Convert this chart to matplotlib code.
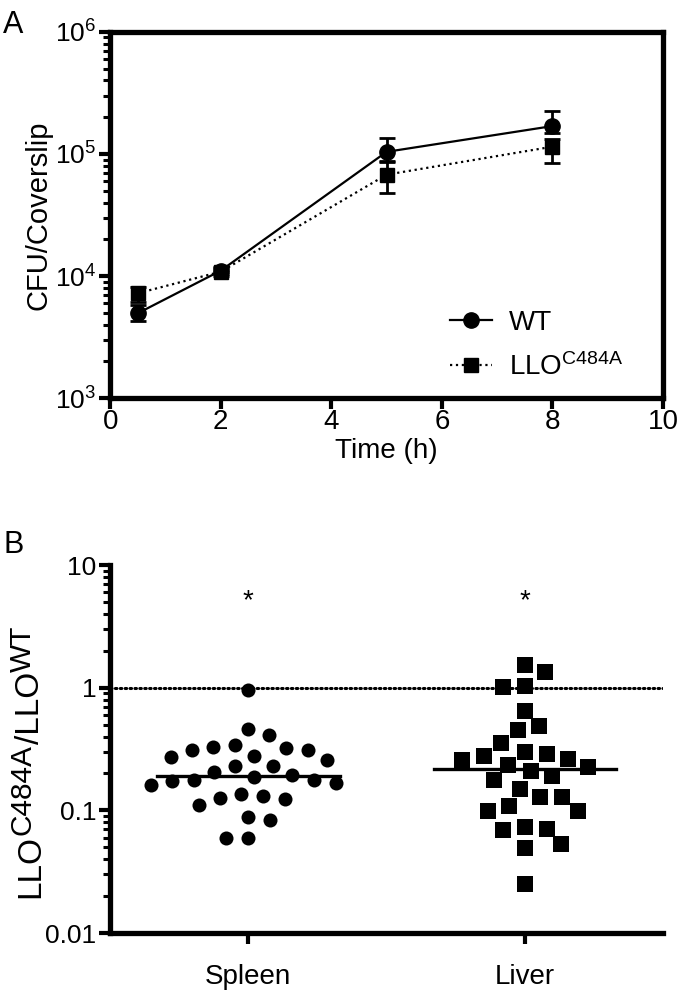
import matplotlib
matplotlib.use("Agg")
import matplotlib.pyplot as plt
import matplotlib.transforms as mtransforms
import numpy as np
from matplotlib.lines import Line2D
from matplotlib.ticker import LogLocator, NullFormatter

plt.rcParams['font.family'] = ['Liberation Sans', 'DejaVu Sans']
plt.rcParams['mathtext.fontset'] = 'custom'
plt.rcParams['mathtext.rm'] = 'Liberation Sans'
plt.rcParams['mathtext.default'] = 'regular'

# ---- panel A data: CFU per coverslip over time ----
time_h = [0.5, 2, 5, 8]
wt_mean = [4960, 11070, 104000, 169000]
wt_lo = [4250, 10300, 85300, 149000]
wt_hi = [5800, 11900, 136000, 226000]
mut_mean = [7230, 10860, 67600, 114600]
mut_lo = [6170, 10100, 48200, 83700]
mut_hi = [8100, 11600, 87500, 131500]

# ---- panel B data: competitive index ----
groups = ['Spleen', 'Liver']
spleen_ci = [0.95, 0.46, 0.41, 0.33, 0.31, 0.28, 0.27, 0.31, 0.32, 0.34,
             0.255, 0.23, 0.23, 0.194, 0.178, 0.175, 0.178, 0.186, 0.205, 0.167,
             0.16, 0.13, 0.124, 0.111, 0.126, 0.136, 0.083, 0.088, 0.059, 0.060]
liver_ci = [1.35, 1.54, 1.02, 1.04, 0.65, 0.49, 0.45, 0.356, 0.30, 0.28,
            0.29, 0.255, 0.26, 0.225, 0.234, 0.19, 0.176, 0.209, 0.15, 0.128,
            0.128, 0.109, 0.098, 0.099, 0.071, 0.069, 0.073, 0.053, 0.049, 0.025]
star_y = 5.1


def swarm_x(ax, xc, vals, w, h):
    # beeswarm in pixel space with an elliptical footprint (w wide, h tall)
    pts = ax.transData.transform(np.column_stack([np.full(len(vals), xc), vals]))
    ys = pts[:, 1] * w / h
    placed = []
    offs = np.zeros(len(vals))
    for i in np.argsort(vals)[::-1]:
        y = ys[i]
        cands = [0.0]
        for px, py in placed:
            dy = abs(py - y)
            if dy < w:
                dx = np.sqrt(w ** 2 - dy ** 2)
                cands += [px + dx, px - dx]
        cands.sort(key=abs)
        for c in cands:
            if all((c - px) ** 2 + (y - py) ** 2 >= w ** 2 - 1e-6 for px, py in placed):
                break
        placed.append((c, y))
        offs[i] = c
    disp = np.column_stack([pts[:, 0] + offs, pts[:, 1]])
    return ax.transData.inverted().transform(disp)[:, 0]


def stacked_ylabel(fig, pieces, x_px, yc_px):
    # rotated label made of pieces, so superscripts can keep a larger size
    r = fig.canvas.get_renderer()
    ident = mtransforms.IdentityTransform()
    items = []
    total = 0
    for s, size, rise in pieces:
        t = fig.text(0, 0, s, fontsize=size, rotation=90, rotation_mode='anchor',
                     ha='left', va='baseline', transform=ident)
        L = t.get_window_extent(r).height
        items.append((t, L, rise))
        total += L
    y = yc_px - total / 2
    for t, L, rise in items:
        t.set_position((x_px - rise, y))
        y += L


fig = plt.figure(figsize=(6.8, 9.93), dpi=100)

# ================= panel A =================
axA = fig.add_axes([0.162, 0.599, 0.813, 0.369])
axA.set_yscale('log')
axA.plot(time_h, wt_mean, '-', color='black', lw=1.6, zorder=3)
axA.plot(time_h, mut_mean, ':', color='black', lw=1.6, zorder=3)
axA.errorbar(time_h, wt_mean,
             yerr=[np.subtract(wt_mean, wt_lo), np.subtract(wt_hi, wt_mean)],
             fmt='o', ms=11, color='black', ecolor='black', elinewidth=2,
             capsize=6, capthick=2, zorder=4)
axA.errorbar(time_h, mut_mean,
             yerr=[np.subtract(mut_mean, mut_lo), np.subtract(mut_hi, mut_mean)],
             fmt='s', ms=10, color='black', ecolor='black', elinewidth=2,
             capsize=6, capthick=2, zorder=4)
axA.set_xlim(0, 10)
axA.set_ylim(1e3, 1e6)
axA.set_xticks([0, 2, 4, 6, 8, 10])
axA.set_yticks([1e3, 1e4, 1e5, 1e6])
axA.set_yticklabels(['10$^{3}$', '10$^{4}$', '10$^{5}$', '10$^{6}$'])
axA.yaxis.set_minor_locator(LogLocator(base=10, subs=np.arange(2, 10)))
axA.yaxis.set_minor_formatter(NullFormatter())
for s in axA.spines.values():
    s.set_linewidth(3.8)
axA.tick_params(axis='both', which='major', length=8, width=3, direction='out')
axA.tick_params(axis='x', labelsize=20, pad=0)
axA.tick_params(axis='y', labelsize=19, pad=2)
axA.tick_params(axis='y', which='minor', length=5, width=2.2, direction='out')
axA.set_xlabel('Time (h)', fontsize=20, labelpad=2)
axA.set_ylabel('CFU/Coverslip', fontsize=21, labelpad=2)

handles = [Line2D([], [], color='black', lw=1.6, ls='-', marker='o', ms=11),
           Line2D([], [], color='black', lw=1.6, ls=':', marker='s', ms=10)]
axA.legend(handles, ['WT', 'LLO$^{C484A}$'], loc='lower left',
           bbox_to_anchor=(0.57, -0.02), frameon=False, fontsize=20,
           handlelength=1.5, handletextpad=0.6, labelspacing=0.6)

fig.text(0.005, 0.975, 'A', fontsize=22, va='center')

# ================= panel B =================
axB = fig.add_axes([0.162, 0.0604, 0.813, 0.3706])
axB.set_yscale('log')
axB.set_xlim(-0.5, 1.5)
axB.set_ylim(0.01, 10)

axB.axhline(1, color='black', lw=2.2, ls=(0, (0.5, 1.1)), dash_capstyle='round', zorder=1)

xs_sp = swarm_x(axB, 0, spleen_ci, 22, 20)
xs_lv = swarm_x(axB, 1, liver_ci, 22, 20)
axB.scatter(xs_sp, spleen_ci, s=102, marker='o', color='black', linewidths=0, zorder=3)
axB.scatter(xs_lv, liver_ci, s=117, marker='s', color='black', linewidths=0, zorder=3)

for i, vals in enumerate([spleen_ci, liver_ci]):
    med = np.median(vals)
    axB.plot([i - 0.33, i + 0.33], [med, med], color='black', lw=2.4, zorder=4)
    axB.text(i, star_y, '*', ha='center', va='center', fontsize=20)

axB.set_xticks([0, 1])
axB.set_xticklabels(groups)
axB.set_yticks([0.01, 0.1, 1, 10])
axB.set_yticklabels(['0.01', '0.1', '1', '10'])
axB.yaxis.set_minor_locator(LogLocator(base=10, subs=np.arange(2, 10)))
axB.yaxis.set_minor_formatter(NullFormatter())
axB.spines['top'].set_visible(False)
axB.spines['right'].set_visible(False)
axB.spines['left'].set_linewidth(3.8)
axB.spines['bottom'].set_linewidth(3.8)
axB.tick_params(axis='both', which='major', length=8, width=3, direction='out')
axB.tick_params(axis='x', labelsize=20, pad=14)
axB.tick_params(axis='y', labelsize=19, pad=2)
axB.tick_params(axis='y', which='minor', length=5, width=2.2, direction='out')

stacked_ylabel(fig, [('LLO', 24, 0), ('C484A', 21.5, 8), ('/LLO', 24, 0), ('WT', 21.5, 8)],
               x_px=39, yc_px=993 - 762)

fig.text(0.005, 0.451, 'B', fontsize=22, va='center')

fig.savefig('out.png', dpi=100)
